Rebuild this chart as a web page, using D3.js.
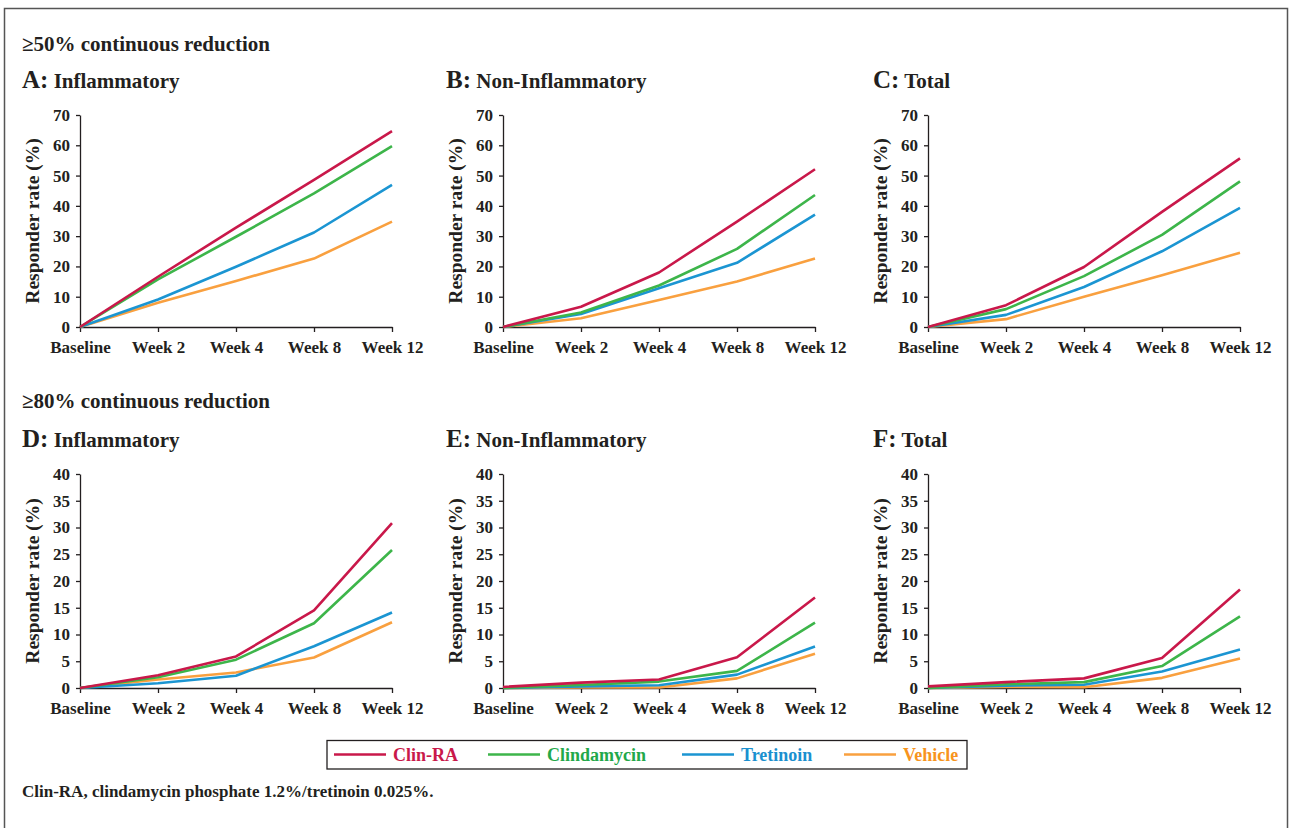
<!DOCTYPE html>
<html>
<head>
<meta charset="utf-8">
<script src="https://cdn.jsdelivr.net/npm/d3@7/dist/d3.min.js"></script>
<style>
  html, body { margin: 0; padding: 0; background: #fff; }
  svg { display: block; font-family: "Liberation Serif", "Times New Roman", serif; font-weight: bold; }
</style>
</head>
<body>
<svg id="chart" width="1290" height="828"></svg>
<script>
// ---------- DATA ----------
const categories = ["Baseline", "Week 2", "Week 4", "Week 8", "Week 12"];
const seriesNames = ["Clin-RA", "Clindamycin", "Tretinoin", "Vehicle"];
const seriesColors = ["#c9184a", "#3db54a", "#1b95d2", "#f9a03f"];
const legendTextColors = ["#c9184a", "#22a84a", "#1b90cf", "#f7941d"];

const yTicks50 = [0, 10, 20, 30, 40, 50, 60, 70];
const yTicks80 = [0, 5, 10, 15, 20, 25, 30, 35, 40];

// >=50% reduction
const A_clinRA      = [0, 16.6, 32.8, 48.6, 64.7];
const A_clindamycin = [0, 15.7, 29.8, 44.1, 59.7];
const A_tretinoin   = [0, 9.1, 19.9, 31.2, 46.9];
const A_vehicle     = [0, 8.0, 15.2, 22.6, 34.8];

const B_clinRA      = [0, 6.7, 18.0, 34.8, 52.1];
const B_clindamycin = [0, 4.8, 13.7, 25.8, 43.6];
const B_tretinoin   = [0, 4.3, 12.8, 21.2, 37.1];
const B_vehicle     = [0, 2.9, 8.9, 15.0, 22.6];

const C_clinRA      = [0, 7.2, 19.8, 38.0, 55.7];
const C_clindamycin = [0, 5.9, 16.8, 30.4, 48.1];
const C_tretinoin   = [0, 4.0, 13.2, 25.0, 39.3];
const C_vehicle     = [0, 2.6, 10.0, 17.1, 24.5];

// >=80% reduction
const D_clinRA      = [0, 2.4, 5.9, 14.5, 30.8];
const D_clindamycin = [0, 2.0, 5.3, 12.1, 25.8];
const D_tretinoin   = [0, 0.9, 2.3, 7.8, 14.1];
const D_vehicle     = [0, 1.6, 2.9, 5.7, 12.3];

const E_clinRA      = [0.2, 1.0, 1.6, 5.75, 16.9];
const E_clindamycin = [0, 0.55, 1.2, 3.2, 12.2];
const E_tretinoin   = [0, 0.3, 0.5, 2.5, 7.75];
const E_vehicle     = [0, 0.1, 0.1, 1.8, 6.4];

const F_clinRA      = [0.3, 1.1, 1.8, 5.6, 18.4];
const F_clindamycin = [0, 0.7, 1.1, 4.1, 13.4];
const F_tretinoin   = [0, 0.45, 0.6, 3.1, 7.2];
const F_vehicle     = [0, 0.2, 0.15, 1.9, 5.5];

const panels = [
  { letter: "A", title: "Inflammatory",     yMax: 70, ticks: yTicks50, data: [A_clinRA, A_clindamycin, A_tretinoin, A_vehicle] },
  { letter: "B", title: "Non-Inflammatory", yMax: 70, ticks: yTicks50, data: [B_clinRA, B_clindamycin, B_tretinoin, B_vehicle] },
  { letter: "C", title: "Total",            yMax: 70, ticks: yTicks50, data: [C_clinRA, C_clindamycin, C_tretinoin, C_vehicle] },
  { letter: "D", title: "Inflammatory",     yMax: 40, ticks: yTicks80, data: [D_clinRA, D_clindamycin, D_tretinoin, D_vehicle] },
  { letter: "E", title: "Non-Inflammatory", yMax: 40, ticks: yTicks80, data: [E_clinRA, E_clindamycin, E_tretinoin, E_vehicle] },
  { letter: "F", title: "Total",            yMax: 40, ticks: yTicks80, data: [F_clinRA, F_clindamycin, F_tretinoin, F_vehicle] }
];
const sectionTitles = ["≥50% continuous reduction", "≥80% continuous reduction"];
const footnote = "Clin-RA, clindamycin phosphate 1.2%/tretinoin 0.025%.";

// ---------- LAYOUT ----------
const svg = d3.select("#chart");
const colX = [80, 503, 928];
const colTitleX = [22, 446, 873];
const plotW = 312;
const rowTop = [115, 474];
const rowBottom = [327, 688];
const rowTitleY = [88, 447];
const sectionY = [51, 408];

// outer frame
svg.append("path")
  .attr("d", "M4.5,840 V8.5 H1287.5 V840")
  .attr("fill", "none").attr("stroke", "#555").attr("stroke-width", 1.5);

sectionTitles.forEach((t, i) => {
  svg.append("text").attr("x", 22).attr("y", sectionY[i])
    .attr("font-size", 21).attr("fill", "#231f20").text(t);
});

const line = (x, y) => d3.line().x((d, i) => x(categories[i])).y(d => y(d));

panels.forEach((p, idx) => {
  const col = idx % 3, row = Math.floor(idx / 3);
  const x0 = colX[col];
  const x = d3.scalePoint().domain(categories).range([x0, x0 + plotW]).padding(0);
  const y = d3.scaleLinear().domain([0, p.yMax]).range([rowBottom[row], rowTop[row]]);

  // title
  const t = svg.append("text").attr("x", colTitleX[col]).attr("y", rowTitleY[row]).attr("fill", "#231f20");
  t.append("tspan").attr("font-size", 25).text(p.letter + ":");
  t.append("tspan").attr("font-size", 21).text(" " + p.title);

  // y axis
  const gy = svg.append("g").attr("transform", `translate(${x0},0)`)
    .call(d3.axisLeft(y).tickValues(p.ticks).tickSize(4).tickSizeOuter(0).tickPadding(6));
  gy.selectAll("text").attr("font-size", 17).attr("font-family", "Liberation Serif").attr("font-weight", "bold").attr("fill", "#231f20");

  // x axis
  const gx = svg.append("g").attr("transform", `translate(0,${rowBottom[row]})`)
    .call(d3.axisBottom(x).tickSize(5).tickSizeOuter(0).tickPadding(9));
  gx.selectAll("text").attr("font-size", 17).attr("font-family", "Liberation Serif").attr("font-weight", "bold").attr("fill", "#231f20");

  [gx, gy].forEach(g => {
    g.select(".domain").attr("stroke", "#231f20").attr("stroke-width", 1.3);
    g.selectAll(".tick line").attr("stroke", "#231f20").attr("stroke-width", 1.3);
  });

  // y label
  svg.append("text")
    .attr("transform", `translate(${x0 - 41},${(rowTop[row] + rowBottom[row]) / 2}) rotate(-90)`)
    .attr("text-anchor", "middle").attr("font-size", 19.5).attr("fill", "#231f20")
    .text("Responder rate (%)");

  // lines (draw vehicle first so Clin-RA on top)
  for (let s = p.data.length - 1; s >= 0; s--) {
    svg.append("path").datum(p.data[s])
      .attr("d", line(x, y))
      .attr("fill", "none").attr("stroke", seriesColors[s])
      .attr("stroke-width", 2.6).attr("stroke-linejoin", "round");
  }
});

// legend
const lg = svg.append("g");
lg.append("rect").attr("x", 327).attr("y", 740.5).attr("width", 640).attr("height", 28.5)
  .attr("fill", "#fff").attr("stroke", "#231f20").attr("stroke-width", 1.3);
const legendLineX = [334, 488, 682, 844];
seriesNames.forEach((n, i) => {
  lg.append("line").attr("x1", legendLineX[i]).attr("x2", legendLineX[i] + 52)
    .attr("y1", 754.5).attr("y2", 754.5).attr("stroke", seriesColors[i]).attr("stroke-width", 2.6);
  lg.append("text").attr("x", legendLineX[i] + 59).attr("y", 760.5)
    .attr("font-size", 18).attr("fill", legendTextColors[i]).text(n);
});

svg.append("text").attr("x", 22).attr("y", 797).attr("font-size", 17).attr("fill", "#231f20").text(footnote);
</script>
</body>
</html>
